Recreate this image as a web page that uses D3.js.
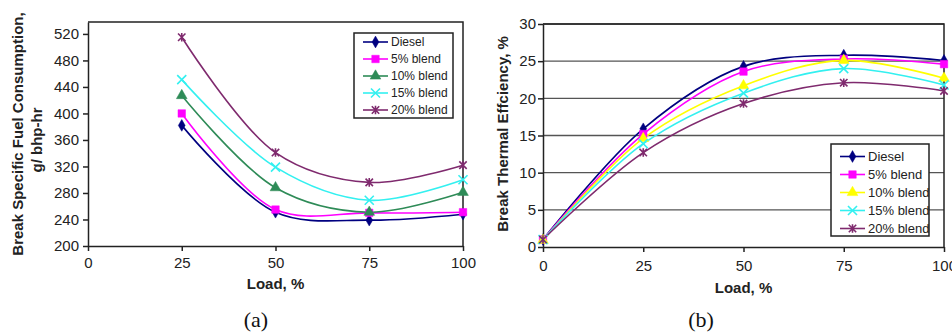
<!DOCTYPE html>
<html>
<head>
<meta charset="utf-8">
<script src="https://cdn.jsdelivr.net/npm/d3@7"></script>
<style>
  html, body { margin: 0; padding: 0; background: #fff; }
  svg { display: block; font-family: Arial, "Liberation Sans", sans-serif; }
  .tick text { font-size: 15px; fill: #222; }
  .domain, .tick line { stroke: #222; stroke-width: 1.5; }
</style>
</head>
<body>
<div id="chart"></div>
<script>
// Series names shared by both panels
const seriesNames = ['Diesel', '5% blend', '10% blend', '15% blend', '20% blend'];

// (a) brake specific fuel consumption, g/bhp-hr
const bsfcLoads = [25, 50, 75, 100];
const bsfcDiesel = [382, 251, 239, 248];
const bsfc5 = [400, 255, 250, 251];
const bsfc10 = [427, 288, 251, 281];
const bsfc15 = [451, 319, 269, 300];
const bsfc20 = [515, 341, 296, 322];
const bsfcTicks = [200, 240, 280, 320, 360, 400, 440, 480, 520];

// (b) brake thermal efficiency, %
const bteLoads = [0, 25, 50, 75, 100];
const bteDiesel = [1.0, 15.9, 24.3, 25.8, 25.1];
const bte5 = [1.0, 15.2, 23.6, 25.3, 24.6];
const bte10 = [0.9, 14.6, 21.7, 25.1, 22.7];
const bte15 = [1.0, 13.9, 20.7, 24.0, 21.8];
const bte20 = [1.0, 12.7, 19.3, 22.1, 21.0];
const bteTicks = [0, 5, 10, 15, 20, 25, 30];

const loadTicks = [0, 25, 50, 75, 100];

const width = 952;
const height = 334;

// Excel style "star" marker: an x with a vertical bar through it
const symbolStar = {
  draw(context, size) {
    const r = Math.sqrt(size) / 2;
    context.moveTo(-r, -r); context.lineTo(r, r);
    context.moveTo(r, -r); context.lineTo(-r, r);
    context.moveTo(0, -r * 1.15); context.lineTo(0, r * 1.15);
  }
};

// marker per series, index matches seriesNames
const markers = [
  { type: d3.symbolDiamond, size: 40, filled: true },
  { type: d3.symbolSquare, size: 56, filled: true },
  { type: d3.symbolTriangle, size: 50, filled: true },
  { type: d3.symbolTimes, size: 55, filled: false },
  { type: symbolStar, size: 55, filled: false }
];

const svg = d3.select('#chart')
  .append('svg')
  .attr('width', width)
  .attr('height', height);

function drawMarker(g, i, color, x, y) {
  const m = markers[i];
  g.append('path')
    .attr('transform', 'translate(' + x + ',' + y + ')')
    .attr('d', d3.symbol().type(m.type).size(m.size)())
    .attr('fill', m.filled ? color : 'none')
    .attr('stroke', color)
    .attr('stroke-width', m.filled ? 0.5 : 1.6);
}

function drawPanel({ box, loads, series, colors, yDomain, yTicks, grid, title, titleX, titleY,
  xTitleY, yTickPad, xTickPad, legend, label, labelX }) {

  const x = d3.scaleLinear().domain([0, 100]).range([box.left, box.right]);
  const y = d3.scaleLinear().domain(yDomain).range([box.bottom, box.top]);
  const g = svg.append('g');

  // horizontal gridlines (panel b only)
  if (grid) {
    g.append('g')
      .selectAll('line')
      .data(yTicks.slice(1))
      .join('line')
      .attr('x1', box.left).attr('x2', box.right)
      .attr('y1', d => y(d)).attr('y2', d => y(d))
      .attr('stroke', '#555')
      .attr('stroke-width', 1.4);
  }

  // plot area frame: top and right edges
  g.append('path')
    .attr('d', d3.line()([[box.left, box.top], [box.right, box.top], [box.right, box.bottom]]))
    .attr('fill', 'none')
    .attr('stroke', '#222')
    .attr('stroke-width', 1.5);

  g.append('g')
    .attr('transform', 'translate(0,' + box.bottom + ')')
    .call(d3.axisBottom(x).tickValues(loadTicks).tickSize(5).tickPadding(xTickPad).tickSizeOuter(0))
    .call(a => a.selectAll('text').attr('font-family', null));

  g.append('g')
    .attr('transform', 'translate(' + box.left + ',0)')
    .call(d3.axisLeft(y).tickValues(yTicks).tickSize(5).tickPadding(yTickPad).tickSizeOuter(0))
    .call(a => a.selectAll('text').attr('font-family', null));

  // smooth lines like Excel's smoothed line option
  const line = d3.line()
    .x((d, i) => x(loads[i]))
    .y(d => y(d))
    .curve(d3.curveCatmullRom.alpha(0.5));

  series.forEach((values, i) => {
    g.append('path')
      .attr('d', line(values))
      .attr('fill', 'none')
      .attr('stroke', colors[i])
      .attr('stroke-width', 1.6);
  });
  series.forEach((values, i) => {
    values.forEach((v, j) => drawMarker(g, i, colors[i], x(loads[j]), y(v)));
  });

  // axis titles
  title.forEach((t, k) => {
    g.append('text')
      .attr('transform', 'translate(' + titleX[k] + ',' + titleY[k] + ') rotate(-90)')
      .attr('text-anchor', 'middle')
      .attr('dominant-baseline', 'central')
      .attr('font-weight', 'bold')
      .attr('font-size', 15)
      .attr('fill', '#222')
      .text(t);
  });

  g.append('text')
    .attr('x', (box.left + box.right) / 2)
    .attr('y', xTitleY)
    .attr('text-anchor', 'middle')
    .attr('font-weight', 'bold')
    .attr('font-size', 15)
    .attr('fill', '#222')
    .text('Load, %');

  // legend
  const lg = g.append('g');
  lg.append('rect')
    .attr('x', legend.x).attr('y', legend.y)
    .attr('width', legend.w).attr('height', legend.h)
    .attr('fill', '#fff')
    .attr('stroke', '#222')
    .attr('stroke-width', 1.5);

  seriesNames.forEach((name, i) => {
    const ry = legend.y + legend.first + i * legend.step;
    lg.append('line')
      .attr('x1', legend.x + 9).attr('x2', legend.x + 34)
      .attr('y1', ry).attr('y2', ry)
      .attr('stroke', colors[i])
      .attr('stroke-width', 1.6);
    drawMarker(lg, i, colors[i], legend.x + 21.5, ry);
    lg.append('text')
      .attr('x', legend.x + 37)
      .attr('y', ry)
      .attr('dominant-baseline', 'central')
      .attr('font-size', legend.font)
      .attr('fill', '#222')
      .text(name);
  });

  // panel label
  svg.append('text')
    .attr('x', labelX)
    .attr('y', 327)
    .attr('text-anchor', 'middle')
    .attr('font-family', '"Liberation Serif", "DejaVu Serif", serif')
    .attr('font-size', 22)
    .attr('fill', '#111')
    .text(label);
}

drawPanel({
  box: { left: 88, right: 463, top: 22, bottom: 246 },
  loads: bsfcLoads,
  series: [bsfcDiesel, bsfc5, bsfc10, bsfc15, bsfc20],
  colors: ['#000080', '#ff00ff', '#2e8b57', '#33f0f0', '#7f2a6e'],
  yDomain: [200, 538],
  yTicks: bsfcTicks,
  grid: false,
  title: ['Break Specific Fuel Consumption,', 'g/ bhp-hr'],
  titleX: [17, 36],
  titleY: [134, 140],
  xTitleY: 289,
  yTickPad: 4,
  xTickPad: 6,
  legend: { x: 354, y: 33, w: 99, h: 85, first: 9, step: 17, font: 12 },
  label: '(a)',
  labelX: 256
});

drawPanel({
  box: { left: 543, right: 944, top: 24, bottom: 247 },
  loads: bteLoads,
  series: [bteDiesel, bte5, bte10, bte15, bte20],
  colors: ['#000080', '#ff00ff', '#ffff00', '#33f0f0', '#7f2a6e'],
  yDomain: [0, 30],
  yTicks: bteTicks,
  grid: true,
  title: ['Break Thermal Effciency, %'],
  titleX: [502],
  titleY: [134],
  xTitleY: 293,
  yTickPad: 2,
  xTickPad: 8,
  legend: { x: 831, y: 144, w: 98, h: 92, first: 12.5, step: 18, font: 13 },
  label: '(b)',
  labelX: 701
});
</script>
</body>
</html>
